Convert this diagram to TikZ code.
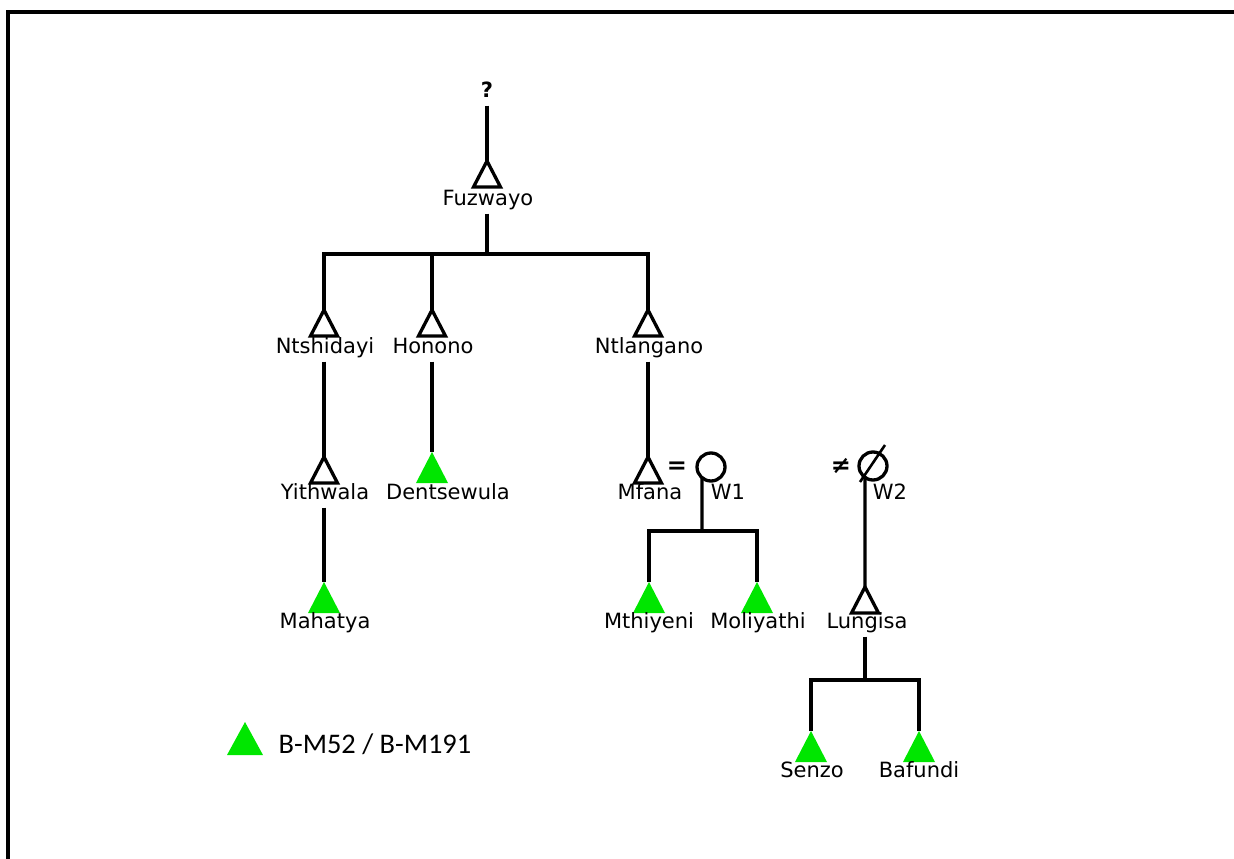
\documentclass[tikz,border=0pt]{standalone}
\usepackage{fontspec}
\setmainfont{DejaVu Sans}
\newfontfamily\legendfont{Carlito}
\usetikzlibrary{shapes.geometric}
\definecolor{haplogreen}{RGB}{0,230,0}

\begin{document}
\begin{tikzpicture}[
  x=1pt, y=-1pt,
  line width=3.3pt,
  male/.style={isosceles triangle, shape border rotate=90,
    isosceles triangle stretches, minimum width=27pt, minimum height=26pt,
    inner sep=0pt, outer sep=0pt, draw, anchor=south},
  carrier/.style={male, draw=none, fill=haplogreen,
    minimum width=32pt, minimum height=31pt},
  wife/.style={circle, draw, minimum size=28pt, inner sep=0pt, outer sep=0pt},
  lbl/.style={font=\fontsize{21}{25}\selectfont, anchor=base,
    inner sep=2pt, text depth=5pt},
  sym/.style={font=\bfseries\fontsize{24}{28}\selectfont, inner sep=0pt}
]
\useasboundingbox (0,0) rectangle (1234,859);
\draw (8,859) -- (8,12) -- (1234,12);

% founder
\node[lbl, font=\bfseries\fontsize{21}{25}\selectfont] (q) at (487,97) {?};
\node[male] (fuz) at (487,187) {};
\node[lbl] (fuzl) at (488,205) {Fuzwayo};
\coordinate (top) at (487,254);
\draw (q.south) -- (fuz.apex);
\draw (fuz.apex |- fuzl.south) -- (top);

% sons
\node[male] (ntsh) at (324,336) {};
\node[male] (hono) at (432,336) {};
\node[male] (ntla) at (648,336) {};
\node[lbl] (ntshl) at (325,353) {Ntshidayi};
\node[lbl] (honol) at (433,353) {Honono};
\node[lbl] (ntlal) at (649,353) {Ntlangano};
\draw (ntsh.apex) |- (top) -| (ntla.apex);
\draw (hono.apex) -- (hono.apex |- top);

% grandsons and wives
\node[male] (yith) at (324,483) {};
\node[carrier] (dents) at (432,483) {};
\node[male] (mfana) at (648,483) {};
\node[lbl] (yithl) at (325,499) {Yithwala};
\node[lbl] (dentsl) at (448,499) {Dentsewula};
\node[lbl] (mfanal) at (650,499) {Mfana};
\draw (yith.apex |- ntshl.south) -- (yith.apex);
\draw (dents.apex |- honol.south) -- (dents.apex);
\draw (mfana.apex |- ntlal.south) -- (mfana.apex);

\node[sym] (eq) at (677,468) {=};
\node[wife] (w1) at (711,467) {};
\node[lbl] (w1l) at (728,499) {W1};
\node[sym] (neq) at (841,466) {≠};
\node[wife] (w2) at (873,466) {};
\node[lbl] (w2l) at (890,499) {W2};
\draw[line width=2.6pt] ([shift={(-13,16)}]w2.center) -- ([shift={(12,-21)}]w2.center);

% next generation
\node[carrier] (maha) at (324,613) {};
\node[carrier] (mthi) at (649,613) {};
\node[carrier] (moli) at (757,613) {};
\node[male] (lung) at (865,613) {};
\node[lbl] (mahal) at (325,628) {Mahatya};
\node[lbl] (mthil) at (649,628) {Mthiyeni};
\node[lbl] (molil) at (758,628) {Moliyathi};
\node[lbl] (lungl) at (867,628) {Lungisa};
\coordinate (mid) at (702,531);
\draw (maha.apex |- yithl.south) -- (maha.apex);
\draw (w1.230) -- (mid);
\draw (mthi.apex) |- (mid) -| (moli.apex);
\draw (w2.235) -- (lung.apex);

\node[carrier] (senzo) at (811,762) {};
\node[carrier] (bafu) at (919,762) {};
\node[lbl] (senzol) at (812,777) {Senzo};
\node[lbl] (baful) at (919,777) {Bafundi};
\coordinate (low) at (865,680);
\draw (low |- lungl.south) -- (low);
\draw (senzo.apex) |- (low) -| (bafu.apex);

% key
\node[carrier, minimum width=36pt, minimum height=33pt] (key) at (245,755) {};
\node[anchor=base west, inner sep=0pt,
  font=\legendfont\fontsize{28.4}{32}\selectfont] (keyl) at (277,753) {B-M52 / B-M191};
\end{tikzpicture}
\end{document}
